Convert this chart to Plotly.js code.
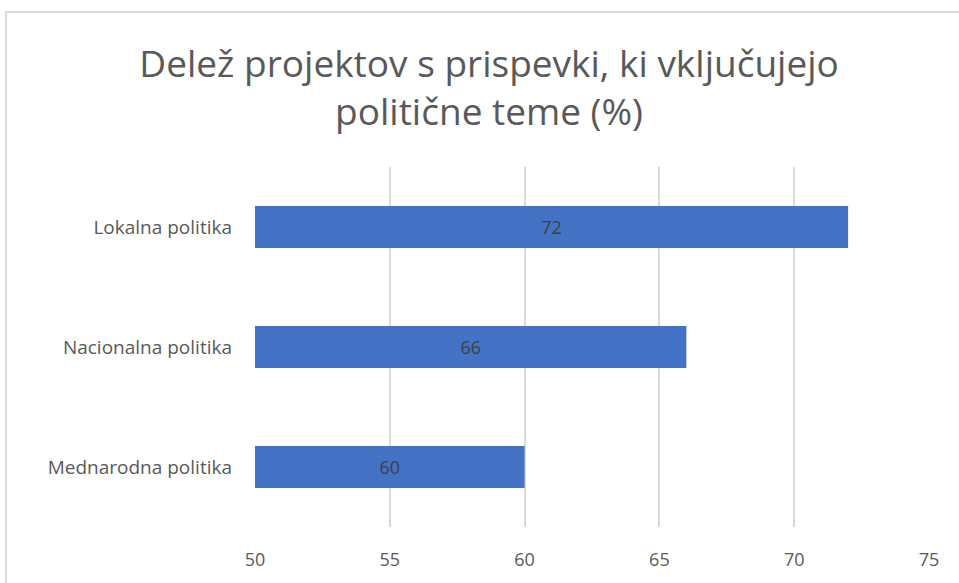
<!DOCTYPE html>
<html>
<head>
<meta charset="utf-8">
<script src="https://cdn.plot.ly/plotly-3.0.1.min.js"></script>
<style>
  body { margin: 0; background: #fff; }
  #frame { position: absolute; left: 5px; top: 11px; width: 960px; height: 580px;
           border-top: 2px solid #d9d9d9; border-left: 2px solid #d9d9d9; }
  #myDiv { position: absolute; left: 0; top: 0; width: 959px; height: 583px; }
</style>
</head>
<body>
<div id="frame"></div>
<div id="myDiv"></div>
<script>
var categories = ['Mednarodna politika', 'Nacionalna politika', 'Lokalna politika'];
var shares = [60, 66, 72];
var xTicks = [50, 55, 60, 65, 70, 75];
var axisMin = 50;

// bars start at the axis minimum, like the original chart
var trace = {
  type: 'bar',
  orientation: 'h',
  y: categories,
  x: shares.map(function (v) { return v - axisMin; }),
  base: axisMin,
  width: 0.35,
  marker: {color: '#4472C4'},
  text: shares.map(String),
  textposition: 'inside',
  insidetextanchor: 'middle',
  textangle: 0,
  textfont: {family: 'Open Sans', size: 18, color: '#404040'},
  hoverinfo: 'skip'
};

var layout = {
  width: 959,
  height: 583,
  margin: {l: 255, r: 30, t: 167, b: 56},
  paper_bgcolor: 'rgba(0,0,0,0)',
  plot_bgcolor: 'rgba(0,0,0,0)',
  showlegend: false,
  font: {family: 'Open Sans', color: '#595959'},
  title: {
    text: 'Delež projektov s prispevki, ki vključujejo<br>politične teme (%)',
    font: {family: 'Open Sans', size: 37, color: '#595959'},
    xref: 'container', x: 0.51, xanchor: 'center',
    yref: 'container', y: 0.868, yanchor: 'middle'
  },
  xaxis: {
    range: [50, 75],
    tickvals: xTicks,
    showgrid: true,
    gridcolor: '#d9d9d9',
    gridwidth: 2,
    zeroline: false,
    showline: false,
    ticks: '',
    ticklabelstandoff: 20,
    tickfont: {size: 18, color: '#595959'}
  },
  yaxis: {
    showgrid: false,
    zeroline: false,
    showline: false,
    ticks: '',
    ticklabelstandoff: 22,
    tickfont: {size: 19, color: '#595959'}
  }
};

Plotly.newPlot('myDiv', [trace], layout, {displayModeBar: false, staticPlot: true});
</script>
</body>
</html>
